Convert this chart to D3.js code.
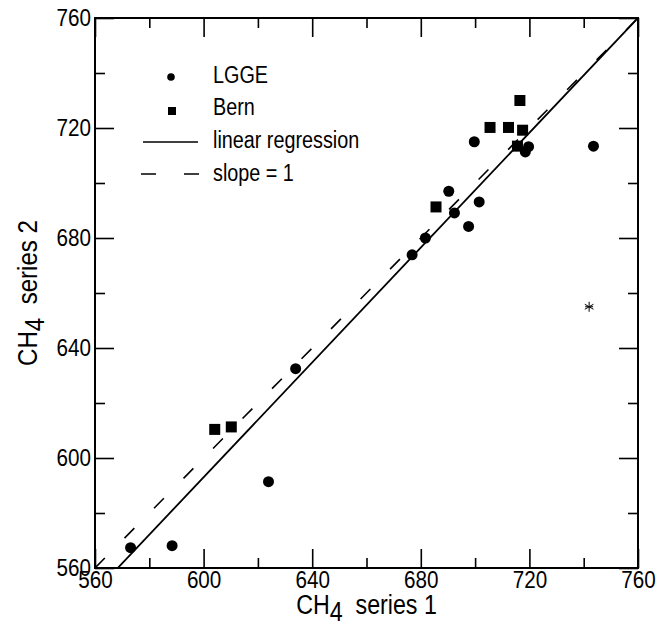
<!DOCTYPE html>
<html>
<head>
<meta charset="utf-8">
<script src="https://cdn.jsdelivr.net/npm/d3@7"></script>
<style>
  body { margin: 0; background: #fff; }
  text { font-family: "Liberation Sans Narrow", "Arial Narrow", "Liberation Sans", sans-serif; fill: #000; }
</style>
</head>
<body>
<div id="chart"></div>
<script>
// data
var lggeX = [573.1, 588.4, 623.9, 633.9, 676.8, 681.7, 690.3, 692.4, 697.6, 699.7, 701.5, 718.5, 719.7, 743.6]
var lggeY = [567.4, 568.1, 591.4, 632.5, 673.9, 680.0, 697.0, 689.1, 684.2, 715.0, 693.1, 711.3, 713.2, 713.4]
var bernX = [604.1, 610.2, 685.6, 705.5, 712.3, 716.5, 717.5, 715.6]
var bernY = [610.4, 611.3, 691.3, 720.2, 720.2, 730.0, 719.2, 713.4]
var outlier = [742, 655]
var regSlope = 1.044
var regIntercept = -33.4
var majorTicks = [560, 600, 640, 680, 720, 760]
var minorTicks = [580, 620, 660, 700, 740]
var legendLabels = ["LGGE", "Bern", "linear regression", "slope = 1"]

var width = 670, height = 626
var mLeft = 95, mRight = 638, mTop = 18, mBottom = 568

var svg = d3.select("#chart").append("svg")
    .attr("width", width)
    .attr("height", height)

var x = d3.scaleLinear().domain([560, 760]).range([mLeft, mRight])
var y = d3.scaleLinear().domain([560, 760]).range([mBottom, mTop])

svg.append("clipPath").attr("id", "plotclip")
    .append("rect")
    .attr("x", mLeft).attr("y", mTop)
    .attr("width", mRight - mLeft).attr("height", mBottom - mTop)

// axes: ticks point inward on all four sides
function styleAxis(g) {
    g.select(".domain").remove()
    g.selectAll(".tick line").attr("stroke", "#000").attr("stroke-width", 1.6)
    g.selectAll(".tick text").style("font-size", "24px").attr("fill", "#000")
}

svg.append("g").attr("transform", "translate(0," + mBottom + ")")
    .call(d3.axisBottom(x).tickValues(majorTicks).tickSize(-19).tickPadding(3).tickFormat(d3.format("d")))
    .call(styleAxis)
svg.append("g").attr("transform", "translate(0," + mBottom + ")")
    .call(d3.axisBottom(x).tickValues(minorTicks).tickSize(-10).tickFormat(""))
    .call(styleAxis)
svg.append("g").attr("transform", "translate(0," + mTop + ")")
    .call(d3.axisTop(x).tickValues(majorTicks).tickSize(-19).tickFormat(""))
    .call(styleAxis)
svg.append("g").attr("transform", "translate(0," + mTop + ")")
    .call(d3.axisTop(x).tickValues(minorTicks).tickSize(-10).tickFormat(""))
    .call(styleAxis)

svg.append("g").attr("transform", "translate(" + mLeft + ",0)")
    .call(d3.axisLeft(y).tickValues(majorTicks).tickSize(-19).tickPadding(4).tickFormat(d3.format("d")))
    .call(styleAxis)
svg.append("g").attr("transform", "translate(" + mLeft + ",0)")
    .call(d3.axisLeft(y).tickValues(minorTicks).tickSize(-10).tickFormat(""))
    .call(styleAxis)
svg.append("g").attr("transform", "translate(" + mRight + ",0)")
    .call(d3.axisRight(y).tickValues(majorTicks).tickSize(-19).tickFormat(""))
    .call(styleAxis)
svg.append("g").attr("transform", "translate(" + mRight + ",0)")
    .call(d3.axisRight(y).tickValues(minorTicks).tickSize(-10).tickFormat(""))
    .call(styleAxis)

// frame
svg.append("rect")
    .attr("x", mLeft).attr("y", mTop)
    .attr("width", mRight - mLeft).attr("height", mBottom - mTop)
    .attr("fill", "none").attr("stroke", "#000").attr("stroke-width", 2)

// lines
var line = d3.line().x(function(d) { return x(d[0]) }).y(function(d) { return y(d[1]) })
var plot = svg.append("g").attr("clip-path", "url(#plotclip)")

plot.append("path")
    .datum([[560, 560], [760, 760]])
    .attr("d", line)
    .attr("fill", "none").attr("stroke", "#000").attr("stroke-width", 1.6)
    .attr("stroke-dasharray", "14,28")

plot.append("path")
    .datum([[560, regSlope * 560 + regIntercept], [760, regSlope * 760 + regIntercept]])
    .attr("d", line)
    .attr("fill", "none").attr("stroke", "#000").attr("stroke-width", 1.8)

// points
plot.selectAll(".lgge")
    .data(d3.zip(lggeX, lggeY))
    .enter().append("circle")
    .attr("cx", function(d) { return x(d[0]) })
    .attr("cy", function(d) { return y(d[1]) })
    .attr("r", 5.5)
    .attr("fill", "#000")

plot.selectAll(".bern")
    .data(d3.zip(bernX, bernY))
    .enter().append("rect")
    .attr("x", function(d) { return x(d[0]) - 5.5 })
    .attr("y", function(d) { return y(d[1]) - 5.5 })
    .attr("width", 11).attr("height", 11)
    .attr("fill", "#000")

// asterisk outlier
var ast = svg.append("g").attr("transform", "translate(" + x(outlier[0]) + "," + y(outlier[1]) + ")")
;[30, 90, 150].forEach(function(a) {
    var r = a * Math.PI / 180
    ast.append("line")
        .attr("x1", -5 * Math.cos(r)).attr("y1", -5 * Math.sin(r))
        .attr("x2", 5 * Math.cos(r)).attr("y2", 5 * Math.sin(r))
        .attr("stroke", "#000").attr("stroke-width", 1)
})
ast.append("line").attr("x1", -4).attr("y1", 0).attr("x2", 4).attr("y2", 0)
    .attr("stroke", "#000").attr("stroke-width", 1)

// legend
var leg = svg.append("g")
var legX = 213, legRows = [75, 107, 140, 173]
leg.append("circle").attr("cx", 171).attr("cy", legRows[0] + 2).attr("r", 3.8).attr("fill", "#000")
leg.append("rect").attr("x", 168).attr("y", legRows[1] + 0).attr("width", 8).attr("height", 8).attr("fill", "#000")
leg.append("line").attr("x1", 143).attr("x2", 198).attr("y1", legRows[2] + 2).attr("y2", legRows[2] + 2)
    .attr("stroke", "#000").attr("stroke-width", 1.6)
leg.append("line").attr("x1", 141).attr("x2", 199).attr("y1", legRows[3] + 1).attr("y2", legRows[3] + 1)
    .attr("stroke", "#000").attr("stroke-width", 1.6).attr("stroke-dasharray", "15,28")
leg.selectAll("text.lab")
    .data(legendLabels)
    .enter().append("text")
    .attr("x", legX)
    .attr("y", function(d, i) { return legRows[i] })
    .attr("dy", "0.35em")
    .style("font-size", "23px")
    .text(function(d) { return d })

// axis titles
var xt = svg.append("text")
    .attr("x", (mLeft + mRight) / 2)
    .attr("y", 614)
    .attr("text-anchor", "middle")
    .style("font-size", "27px")
xt.append("tspan").text("CH")
xt.append("tspan").attr("dy", 7).text("4")
xt.append("tspan").attr("dy", -7).text("\u00a0 series 1")

var yt = svg.append("text")
    .attr("transform", "translate(37," + ((mTop + mBottom) / 2) + ") rotate(-90)")
    .attr("text-anchor", "middle")
    .style("font-size", "28px")
yt.append("tspan").text("CH")
yt.append("tspan").attr("dy", 7).text("4")
yt.append("tspan").attr("dy", -7).text("\u00a0 series 2")

// the original lettering is a narrow face; squeeze the regular one
svg.selectAll("text").each(function() {
    var len = this.getComputedTextLength()
    if (len > 0) d3.select(this).attr("textLength", len * 0.86).attr("lengthAdjust", "spacingAndGlyphs")
})
</script>
</body>
</html>
